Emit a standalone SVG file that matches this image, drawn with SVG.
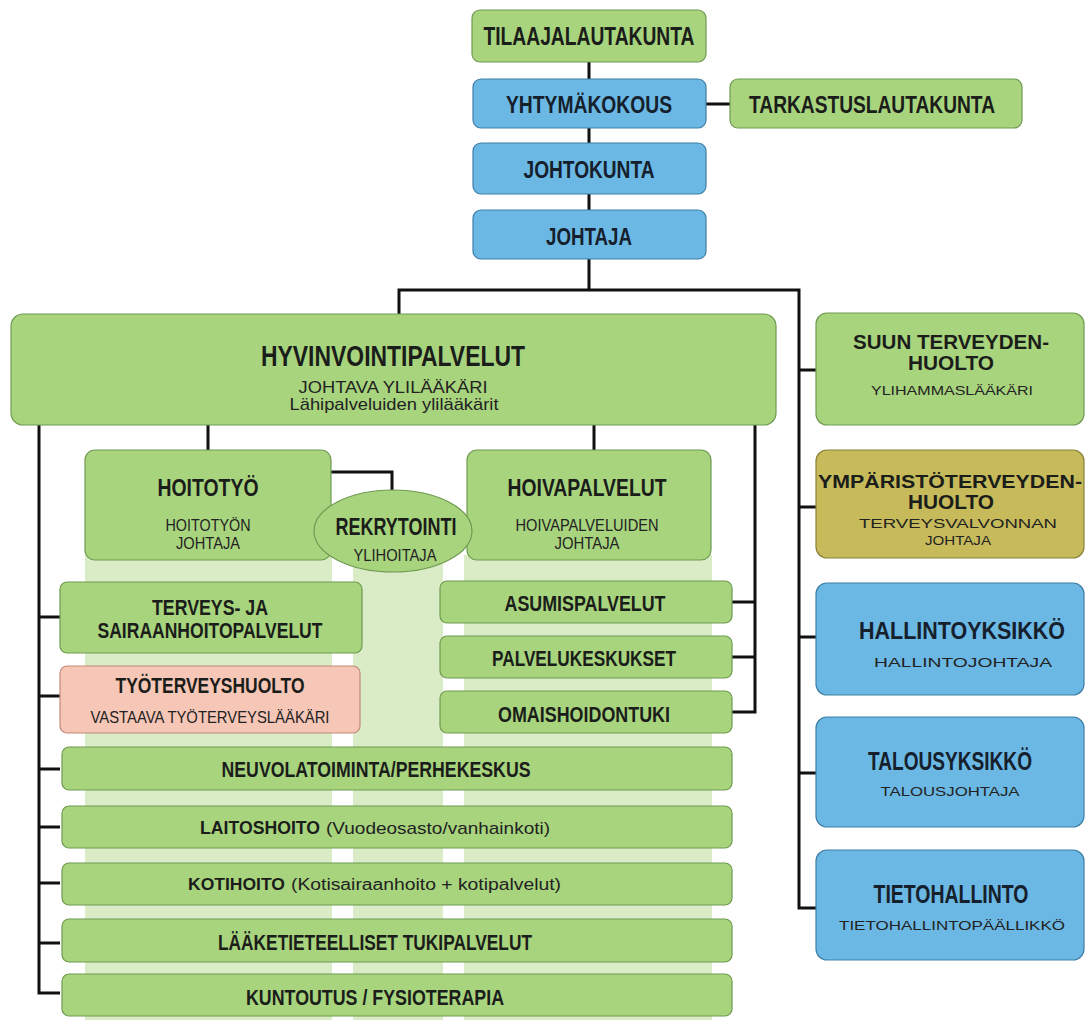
<svg xmlns="http://www.w3.org/2000/svg" width="1085" height="1020" viewBox="0 0 1085 1020">
<style>
.g{fill:#a8d47e;stroke:#6f9a52;stroke-width:1.2}
.b{fill:#6bb8e4;stroke:#3f7ea6;stroke-width:1.2}
.o{fill:#c6ba5a;stroke:#8a8138;stroke-width:1.2}
.p{fill:#f6c6b6;stroke:#c08a7a;stroke-width:1.2}
.st{fill:#daecc6}
.t{font-family:"Liberation Sans",Arial,sans-serif;font-weight:bold;fill:#1b1d1a;text-anchor:middle;dominant-baseline:central}
.tb{font-family:"Liberation Sans",Arial,sans-serif;font-weight:bold;fill:#15202c;text-anchor:middle;dominant-baseline:central}
.s{font-family:"Liberation Sans",Arial,sans-serif;fill:#222;text-anchor:middle;dominant-baseline:central}
.l{fill:none;stroke:#111;stroke-width:3}
</style>
<rect width="1085" height="1020" fill="#ffffff"/>
<g id="stripes">
<rect class="st" x="85" y="555" width="247" height="465"/>
<rect class="st" x="353" y="540" width="90" height="480"/>
<rect class="st" x="464" y="555" width="248" height="465"/>
</g>
<g id="connectors">
<path class="l" d="M589,62V79M589,128V143M589,194V210M589,259V290"/>
<path class="l" d="M706,104H730" stroke-width="5"/>
<path class="l" d="M399,314V290H799V908H816M799,370H816M799,507H816M799,637H816M799,773H816"/>
<path class="l" d="M39,425V993H60M39,617H60M39,696H60M39,769H60M39,827H60M39,883H60M39,943H60"/>
<path class="l" d="M208,425V450M594,425V450"/>
<path class="l" d="M755,425V712H732M755,602H732M755,657H732"/>
<path class="l" d="M330,472H392V490"/>
</g>
<g id="tilaajalautakunta">
<rect class="g" x="472" y="10" width="234" height="52" rx="8"/>
<text class="t" x="589" y="36" font-size="25" textLength="211" lengthAdjust="spacingAndGlyphs">TILAAJALAUTAKUNTA</text>
</g>
<g id="yhtymakokous">
<rect class="b" x="473" y="79" width="233" height="49" rx="8"/>
<text class="tb" x="589" y="105" font-size="23" textLength="166" lengthAdjust="spacingAndGlyphs">YHTYMÄKOKOUS</text>
</g>
<g id="tarkastuslautakunta">
<rect class="g" x="730" y="79" width="292" height="49" rx="8"/>
<text class="t" x="872" y="105" font-size="23" textLength="246" lengthAdjust="spacingAndGlyphs">TARKASTUSLAUTAKUNTA</text>
</g>
<g id="johtokunta">
<rect class="b" x="473" y="143" width="233" height="51" rx="8"/>
<text class="tb" x="589" y="170" font-size="23" textLength="131" lengthAdjust="spacingAndGlyphs">JOHTOKUNTA</text>
</g>
<g id="johtaja">
<rect class="b" x="473" y="210" width="233" height="49" rx="8"/>
<text class="tb" x="589" y="237" font-size="23" textLength="86" lengthAdjust="spacingAndGlyphs">JOHTAJA</text>
</g>
<g id="hyvinvointipalvelut">
<rect class="g" x="11" y="314" width="765" height="111" rx="12"/>
<text class="t" x="393" y="356" font-size="29" textLength="264" lengthAdjust="spacingAndGlyphs">HYVINVOINTIPALVELUT</text>
<text class="s" x="393" y="387" font-size="17" textLength="189" lengthAdjust="spacingAndGlyphs">JOHTAVA YLILÄÄKÄRI</text>
<text class="s" x="394" y="404" font-size="17" textLength="209" lengthAdjust="spacingAndGlyphs">Lähipalveluiden ylilääkärit</text>
</g>
<g id="hoitotyo">
<rect class="g" x="85" y="450" width="246" height="110" rx="10"/>
<text class="t" x="208" y="488" font-size="23" textLength="101" lengthAdjust="spacingAndGlyphs">HOITOTYÖ</text>
<text class="s" x="208" y="525" font-size="16" textLength="85" lengthAdjust="spacingAndGlyphs">HOITOTYÖN</text>
<text class="s" x="208" y="543" font-size="16" textLength="64" lengthAdjust="spacingAndGlyphs">JOHTAJA</text>
</g>
<g id="hoivapalvelut">
<rect class="g" x="467" y="450" width="244" height="110" rx="10"/>
<text class="t" x="587" y="488" font-size="23" textLength="159" lengthAdjust="spacingAndGlyphs">HOIVAPALVELUT</text>
<text class="s" x="587" y="525" font-size="16" textLength="143" lengthAdjust="spacingAndGlyphs">HOIVAPALVELUIDEN</text>
<text class="s" x="587" y="543" font-size="16" textLength="65" lengthAdjust="spacingAndGlyphs">JOHTAJA</text>
</g>
<g id="rekrytointi">
<ellipse class="g" cx="393" cy="531" rx="79" ry="41"/>
<text class="t" x="396" y="527" font-size="23" textLength="121" lengthAdjust="spacingAndGlyphs">REKRYTOINTI</text>
<text class="s" x="395" y="555" font-size="16" textLength="83" lengthAdjust="spacingAndGlyphs">YLIHOITAJA</text>
</g>
<g id="terveys-ja-sairaanhoitopalvelut">
<rect class="g" x="60" y="582" width="302" height="71" rx="7"/>
<text class="t" x="210" y="607" font-size="22" textLength="116" lengthAdjust="spacingAndGlyphs">TERVEYS- JA</text>
<text class="t" x="210" y="630" font-size="22" textLength="225" lengthAdjust="spacingAndGlyphs">SAIRAANHOITOPALVELUT</text>
</g>
<g id="tyoterveyshuolto">
<rect class="p" x="60" y="666" width="300" height="67" rx="7"/>
<text class="t" x="210" y="685" font-size="22" textLength="189" lengthAdjust="spacingAndGlyphs">TYÖTERVEYSHUOLTO</text>
<text class="s" x="210" y="717" font-size="17" textLength="239" lengthAdjust="spacingAndGlyphs">VASTAAVA TYÖTERVEYSLÄÄKÄRI</text>
</g>
<g id="asumispalvelut">
<rect class="g" x="440" y="581" width="292" height="42" rx="7"/>
<text class="t" x="585" y="603" font-size="22" textLength="161" lengthAdjust="spacingAndGlyphs">ASUMISPALVELUT</text>
</g>
<g id="palvelukeskukset">
<rect class="g" x="440" y="636" width="292" height="42" rx="7"/>
<text class="t" x="584" y="658" font-size="22" textLength="184" lengthAdjust="spacingAndGlyphs">PALVELUKESKUKSET</text>
</g>
<g id="omaishoidontuki">
<rect class="g" x="440" y="691" width="292" height="42" rx="7"/>
<text class="t" x="584" y="714" font-size="22" textLength="172" lengthAdjust="spacingAndGlyphs">OMAISHOIDONTUKI</text>
</g>
<g id="neuvolatoiminta">
<rect class="g" x="62" y="747" width="670" height="43" rx="7"/>
<text class="t" x="376" y="769" font-size="22" textLength="309" lengthAdjust="spacingAndGlyphs">NEUVOLATOIMINTA/PERHEKESKUS</text>
</g>
<g id="laitoshoito">
<rect class="g" x="62" y="806" width="670" height="42" rx="7"/>
<text class="s" x="200" y="828" style="text-anchor:start"><tspan font-weight="bold" font-size="18" fill="#1b1d1a" textLength="120" lengthAdjust="spacingAndGlyphs">LAITOSHOITO</tspan><tspan dx="6" font-size="17" textLength="224" lengthAdjust="spacingAndGlyphs">(Vuodeosasto/vanhainkoti)</tspan></text>
</g>
<g id="kotihoito">
<rect class="g" x="62" y="863" width="670" height="42" rx="7"/>
<text class="s" x="188" y="884" style="text-anchor:start"><tspan font-weight="bold" font-size="17" fill="#1b1d1a" textLength="97" lengthAdjust="spacingAndGlyphs">KOTIHOITO</tspan><tspan dx="6" font-size="16" textLength="270" lengthAdjust="spacingAndGlyphs">(Kotisairaanhoito + kotipalvelut)</tspan></text>
</g>
<g id="laaketieteelliset-tukipalvelut">
<rect class="g" x="62" y="919" width="670" height="43" rx="7"/>
<text class="t" x="375" y="942" font-size="22" textLength="314" lengthAdjust="spacingAndGlyphs">LÄÄKETIETEELLISET TUKIPALVELUT</text>
</g>
<g id="kuntoutus">
<rect class="g" x="62" y="974" width="670" height="42" rx="7"/>
<text class="t" x="375" y="997" font-size="22" textLength="258" lengthAdjust="spacingAndGlyphs">KUNTOUTUS / FYSIOTERAPIA</text>
</g>
<g id="suun-terveydenhuolto">
<rect class="g" x="816" y="313" width="268" height="112" rx="11"/>
<text class="t" x="951" y="342" font-size="20" textLength="196" lengthAdjust="spacingAndGlyphs">SUUN TERVEYDEN-</text>
<text class="t" x="951" y="363" font-size="20" textLength="86" lengthAdjust="spacingAndGlyphs">HUOLTO</text>
<text class="s" x="952" y="390" font-size="13" textLength="162" lengthAdjust="spacingAndGlyphs">YLIHAMMASLÄÄKÄRI</text>
</g>
<g id="ymparistoterveydenhuolto">
<rect class="o" x="816" y="450" width="268" height="108" rx="11"/>
<text class="t" x="950" y="481" font-size="19" textLength="264" lengthAdjust="spacingAndGlyphs">YMPÄRISTÖTERVEYDEN-</text>
<text class="t" x="951" y="502" font-size="20" textLength="86" lengthAdjust="spacingAndGlyphs">HUOLTO</text>
<text class="s" x="958" y="523" font-size="13" textLength="198" lengthAdjust="spacingAndGlyphs">TERVEYSVALVONNAN</text>
<text class="s" x="958" y="540" font-size="13" textLength="66" lengthAdjust="spacingAndGlyphs">JOHTAJA</text>
</g>
<g id="hallintoyksikko">
<rect class="b" x="816" y="583" width="268" height="112" rx="11"/>
<text class="tb" x="962" y="631" font-size="23" textLength="206" lengthAdjust="spacingAndGlyphs">HALLINTOYKSIKKÖ</text>
<text class="s" x="963" y="662" font-size="13" textLength="178" lengthAdjust="spacingAndGlyphs">HALLINTOJOHTAJA</text>
</g>
<g id="talousyksikko">
<rect class="b" x="816" y="717" width="268" height="110" rx="11"/>
<text class="tb" x="950" y="761" font-size="25" textLength="164" lengthAdjust="spacingAndGlyphs">TALOUSYKSIKKÖ</text>
<text class="s" x="950" y="791" font-size="13" textLength="139" lengthAdjust="spacingAndGlyphs">TALOUSJOHTAJA</text>
</g>
<g id="tietohallinto">
<rect class="b" x="816" y="850" width="268" height="110" rx="11"/>
<text class="tb" x="951" y="894" font-size="25" textLength="155" lengthAdjust="spacingAndGlyphs">TIETOHALLINTO</text>
<text class="s" x="952" y="925" font-size="13" textLength="226" lengthAdjust="spacingAndGlyphs">TIETOHALLINTOPÄÄLLIKKÖ</text>
</g>
</svg>
